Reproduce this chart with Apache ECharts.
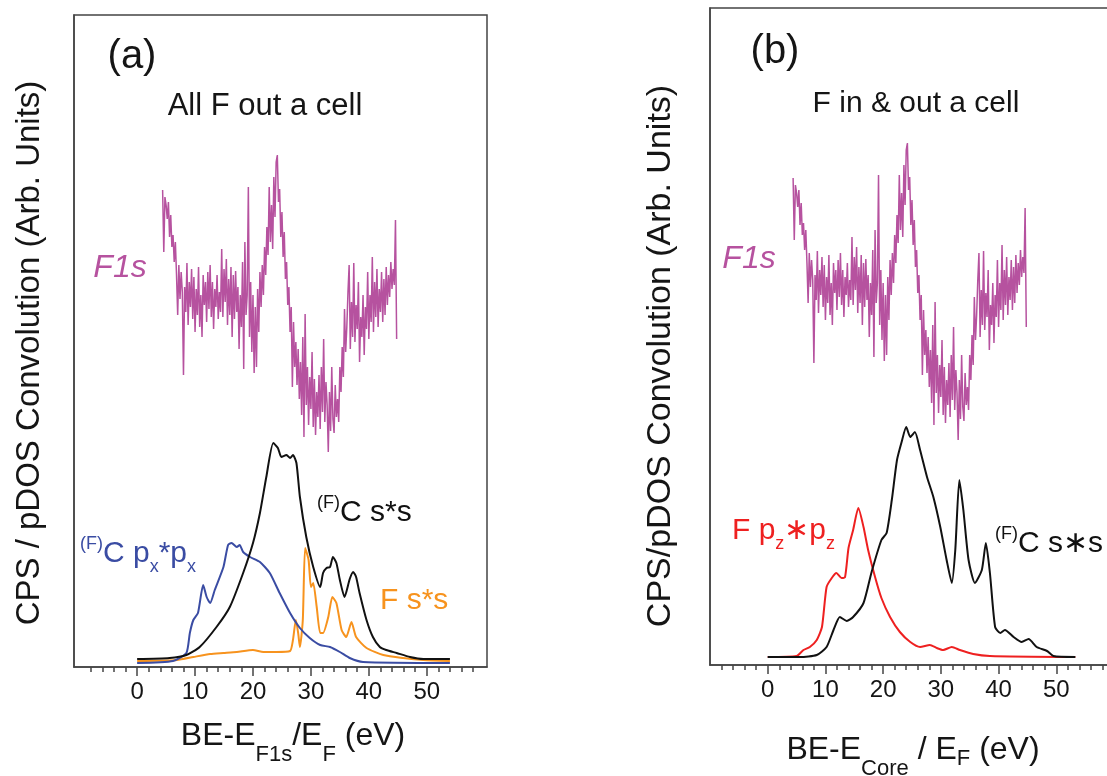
<!DOCTYPE html>
<html>
<head>
<meta charset="utf-8">
<title>F1s XPS and pDOS convolution</title>
<script src="https://cdn.jsdelivr.net/npm/echarts@6/dist/echarts.min.js"></script>
<style>
  html, body { margin: 0; padding: 0; background: #fff; }
  #main { width: 1107px; height: 776px; }
</style>
</head>
<body>
<div id="main"></div>
<script>
  // F1s XPS spectrum, same measurement drawn in both panels (arb. units)
  const f1sStart = 4.4
  const f1sStep = 0.2
  const f1sCps = [
    477, 415, 470, 462, 448, 465, 430, 452, 420,
    432, 405, 425, 392, 352, 402, 368, 395, 375, 292,
    380, 355, 404, 342, 385, 360, 398, 348, 390, 335,
    378, 352, 400, 340, 372, 330, 392, 362, 385, 345,
    395, 358, 402, 350, 385, 338, 378, 360, 392, 348,
    375, 355, 418, 350, 398, 365, 408, 342, 388, 352,
    400, 330, 392, 348, 396, 355, 380, 318, 372, 340,
    405, 298, 425, 352, 372, 480,
    330, 385, 315, 372, 294, 360, 300, 378, 335,
    395, 360, 402, 372, 420, 392,
    440, 412, 480, 425, 462,
    418, 490, 450, 505, 512, 465,
    478, 430, 455, 410, 435,
    388, 405, 362, 380, 335, 360, 280,
    345, 300, 325, 282, 318, 268,
    305, 252, 330, 230, 353, 262, 300, 242, 290, 258, 315, 240, 288, 232, 275,
    250, 292, 238, 300, 255, 328, 245, 285, 262, 215, 275, 236, 300, 248, 234, 282, 250, 268, 245,
    300, 275, 320, 290, 358, 315, 340,
    375, 402, 318, 365, 330, 404, 325, 362, 338, 385, 305, 350, 330, 372, 312, 360, 338, 395,
    328, 372, 345, 410, 335, 385, 350, 398, 340, 378, 355, 395, 345, 388, 352,
    400, 362, 392, 370, 405, 378, 398, 382, 447, 328
  ]

  // panel (a): All F out a cell
  const aCssE = [0, 5.6, 8.5, 10.8, 13.7, 16.0, 18.3, 20.0, 21.2, 22.3, 23.5, 24.3, 24.9, 25.8, 26.4, 26.9, 27.5, 28.1, 29.2, 30.4, 31.6, 32.1, 32.7, 33.3, 33.8, 34.4, 35.0, 35.8, 36.7, 37.3, 37.8, 38.4, 39.6, 40.7, 41.9, 43.0, 44.8, 47.1, 49.4, 54.0]
  const aCss = [8, 9, 12, 20, 40, 60, 94, 124, 154, 190, 224, 219, 210, 212, 209, 212, 204, 170, 130, 100, 80, 94, 99, 100, 110, 104, 87, 70, 88, 95, 90, 74, 47, 30, 20, 17, 14, 10, 8, 8]
  const aCpxE = [0, 6.2, 8.5, 9.1, 9.7, 10.5, 11.4, 12.0, 12.6, 13.4, 14.9, 15.7, 16.3, 17.2, 17.7, 18.3, 19.5, 21.2, 22.9, 24.6, 26.4, 28.1, 29.8, 31.6, 33.3, 35.0, 36.7, 39.0, 54.0]
  const aCpx = [4, 6, 14, 34, 47, 54, 82, 70, 64, 77, 100, 122, 124, 120, 122, 115, 110, 105, 94, 74, 54, 39, 29, 22, 20, 15, 9, 5, 4]
  const aFssE = [0, 6.9, 9.7, 12.6, 14.9, 17.2, 20.0, 21.8, 24.0, 26.4, 26.9, 27.4, 27.8, 28.1, 28.6, 29.0, 29.6, 30.0, 30.4, 31.0, 31.6, 32.1, 33.0, 33.7, 34.4, 35.3, 36.1, 37.0, 37.8, 39.6, 42.5, 45.9, 49.4, 54.0]
  const aFss = [6, 7, 10, 13, 14, 15, 17, 15, 15, 16, 27, 47, 34, 20, 47, 119, 107, 80, 84, 60, 34, 34, 50, 70, 64, 37, 30, 45, 30, 19, 12, 9, 7, 6]

  // panel (b): F in & out a cell
  const bCssE = [0, 5.6, 8.5, 10.2, 11.4, 12.5, 13.7, 14.8, 16.6, 18.0, 19.7, 20.6, 21.5, 22.4, 23.2, 24.0, 24.7, 25.5, 26.4, 27.6, 28.7, 29.9, 31.0, 31.9, 32.5, 33.2, 33.9, 34.8, 35.9, 37.1, 37.8, 38.5, 39.4, 40.3, 41.1, 42.6, 44.0, 45.2, 46.6, 48.4, 49.5, 53.3]
  const bCss = [-2, -2, 0, 8, 25, 38, 34, 38, 52, 83, 115, 122, 155, 195, 213, 228, 218, 223, 205, 178, 158, 128, 95, 72, 105, 175, 145, 95, 72, 85, 112, 82, 28, 22, 25, 18, 13, 16, 8, 4, -1, -2]
  const bFpzE = [0, 5.0, 6.2, 7.3, 8.5, 9.4, 10.2, 11.1, 11.9, 12.8, 13.4, 14.0, 14.8, 15.7, 16.6, 17.4, 18.6, 19.7, 21.2, 22.9, 24.7, 26.4, 28.1, 29.3, 30.4, 31.9, 33.3, 35.6, 38.5, 53.3]
  const bFpz = [-2, -1, 5, 8, 15, 28, 68, 77, 82, 77, 78, 107, 125, 147, 128, 105, 78, 57, 38, 23, 13, 8, 10, 7, 5, 8, 5, 1, -1, -2]

  // x axis ticks
  const minorTicks = [-8, -6, -4, -2, 0, 2, 4, 6, 8, 10, 12, 14, 16, 18, 20, 22, 24, 26, 28, 30, 32, 34, 36, 38, 40, 42, 44, 46, 48, 50, 52, 54, 56, 58]
  const majorTicks = [0, 10, 20, 30, 40, 50]

  const FONT = '"Liberation Sans", Arial, Helvetica, sans-serif'
  const AXIS_COLOR = '#444'
  const TEXT_COLOR = '#151515'

  function zip (xs, ys) {
    return xs.map((x, i) => [x, ys[i]])
  }

  function f1sPairs () {
    return f1sCps.map((v, i) => [+(f1sStart + i * f1sStep).toFixed(2), v])
  }

  function lineSeries (name, grid, data, color, width, smooth) {
    return {
      name: name,
      type: 'line',
      xAxisIndex: grid * 2,
      yAxisIndex: grid,
      data: data,
      showSymbol: false,
      smooth: smooth,
      lineStyle: { color: color, width: width },
      itemStyle: { color: color },
      animation: false
    }
  }

  function xAxes (grid, min, max) {
    return [{
      gridIndex: grid,
      type: 'value',
      position: 'bottom',
      min: min,
      max: max,
      axisLine: { show: true, onZero: false, lineStyle: { color: AXIS_COLOR, width: 1.5 } },
      axisTick: { show: true, customValues: minorTicks, length: 5, lineStyle: { color: AXIS_COLOR, width: 1.5 } },
      axisLabel: { show: false },
      splitLine: { show: false }
    }, {
      gridIndex: grid,
      type: 'value',
      position: 'bottom',
      offset: 0,
      min: min,
      max: max,
      axisLine: { show: false, onZero: false },
      axisTick: { show: true, customValues: majorTicks, length: 9, lineStyle: { color: AXIS_COLOR, width: 1.5 } },
      axisLabel: {
        show: true,
        customValues: majorTicks,
        fontSize: 24,
        fontFamily: FONT,
        color: TEXT_COLOR,
        margin: 13
      },
      splitLine: { show: false }
    }]
  }

  function yAxis (grid, min, max) {
    return {
      gridIndex: grid,
      type: 'value',
      position: 'left',
      min: min,
      max: max,
      axisLine: { show: true, onZero: false, lineStyle: { color: AXIS_COLOR, width: 1.5 } },
      axisTick: { show: false },
      axisLabel: { show: false },
      splitLine: { show: false }
    }
  }

  function rich (color) {
    return {
      m: { fontSize: 30, lineHeight: 30, padding: [4, 0, 0, 0], verticalAlign: 'top', fill: color, fontFamily: FONT },
      sup: { fontSize: 18, lineHeight: 18, verticalAlign: 'top', fill: color, fontFamily: FONT },
      sub: { fontSize: 18, lineHeight: 18, padding: [23, 0, 0, 0], verticalAlign: 'top', fill: color, fontFamily: FONT }
    }
  }

  function richAxisTitle (subPadHi) {
    return {
      m: { fontSize: 32, lineHeight: 32, verticalAlign: 'top', fill: TEXT_COLOR, fontFamily: FONT },
      sub: { fontSize: 22, lineHeight: 22, padding: [24, 0, 0, 0], verticalAlign: 'top', fill: TEXT_COLOR, fontFamily: FONT },
      subHi: { fontSize: 22, lineHeight: 22, padding: [subPadHi, 0, 0, 0], verticalAlign: 'top', fill: TEXT_COLOR, fontFamily: FONT }
    }
  }

  function label (x, y, text, richStyle, align) {
    return {
      type: 'text',
      x: x,
      y: y,
      silent: true,
      style: {
        text: text,
        rich: richStyle,
        align: align || 'left',
        textAlign: align || 'left',
        verticalAlign: 'top',
        textVerticalAlign: 'top'
      }
    }
  }

  function plain (x, y, text, size, color, opts) {
    opts = opts || {}
    return {
      type: 'text',
      x: x,
      y: y,
      rotation: opts.rotation || 0,
      silent: true,
      style: {
        text: text,
        font: (opts.italic ? 'italic ' : '') + size + 'px ' + FONT,
        fill: color,
        align: 'center',
        textAlign: 'center',
        verticalAlign: 'middle',
        textVerticalAlign: 'middle'
      }
    }
  }

  const chart = echarts.init(document.getElementById('main'), null, { renderer: 'canvas' })

  const magenta = '#b6529f'
  const blue = '#3a4ca3'
  const orange = '#f7931e'
  const red = '#ee2020'
  const black = '#111111'

  const options = {
    backgroundColor: '#ffffff',
    animation: false,
    grid: [
      { left: 74, top: 15, width: 413, height: 652, show: true, borderColor: AXIS_COLOR, borderWidth: 1.5, outerBoundsMode: 'none', containLabel: false },
      { left: 710, top: 8, width: 404, height: 657, show: true, borderColor: AXIS_COLOR, borderWidth: 1.5, outerBoundsMode: 'none', containLabel: false }
    ],
    xAxis: [].concat(xAxes(0, -10.9, 60.4), xAxes(1, -10, 60)),
    yAxis: [yAxis(0, 0, 652), yAxis(1, -10, 647)],
    series: [
      lineSeries('F1s (a)', 0, f1sPairs(), magenta, 1.5, false),
      lineSeries('F s*s', 0, zip(aFssE, aFss), orange, 2, 0.2),
      lineSeries('(F)C px*px', 0, zip(aCpxE, aCpx), blue, 2, 0.2),
      lineSeries('(F)C s*s (a)', 0, zip(aCssE, aCss), black, 2, 0.2),
      lineSeries('F1s (b)', 1, f1sPairs(), magenta, 1.5, false),
      lineSeries('F pz*pz', 1, zip(bFpzE, bFpz), red, 2, 0.2),
      lineSeries('(F)C s*s (b)', 1, zip(bCssE, bCss), black, 2, 0.2)
    ],
    graphic: [
      // panel (a)
      plain(132, 57, '(a)', 40, TEXT_COLOR),
      plain(265, 106, 'All F out a cell', 31, TEXT_COLOR),
      plain(120, 268, 'F1s', 32, magenta, { italic: true }),
      plain(30, 353, 'CPS / pDOS Convolution (Arb. Units)', 33, TEXT_COLOR, { rotation: Math.PI / 2 }),
      label(317, 494, '{sup|(F)}{m|C s*s}', rich(black)),
      label(80, 535, '{sup|(F)}{m|C p}{sub|x}{m|*p}{sub|x}', rich(blue)),
      label(380, 582, '{m|F s*s}', rich(orange)),
      label(293, 720, '{m|BE-E}{sub|F1s}{m|/E}{sub|F}{m| (eV)}', richAxisTitle(24), 'center'),
      // panel (b)
      plain(775, 52, '(b)', 40, TEXT_COLOR),
      plain(916, 104, 'F in & out a cell', 30, TEXT_COLOR),
      plain(749, 259, 'F1s', 32, magenta, { italic: true }),
      plain(661, 356, 'CPS/pDOS Convolution (Arb. Units)', 34, TEXT_COLOR, { rotation: Math.PI / 2 }),
      label(732, 512, '{m|F p}{sub|z}{m|\u2217p}{sub|z}', rich(red)),
      label(995, 525, '{sup|(F)}{m|C s\u2217s}', rich(black)),
      label(913, 734, '{m|BE-E}{sub|Core}{m| / E}{subHi|F}{m| (eV)}', richAxisTitle(14), 'center')
    ]
  }

  chart.setOption(options)
  window.addEventListener('resize', function () {
    chart.resize()
  })
</script>
</body>
</html>
